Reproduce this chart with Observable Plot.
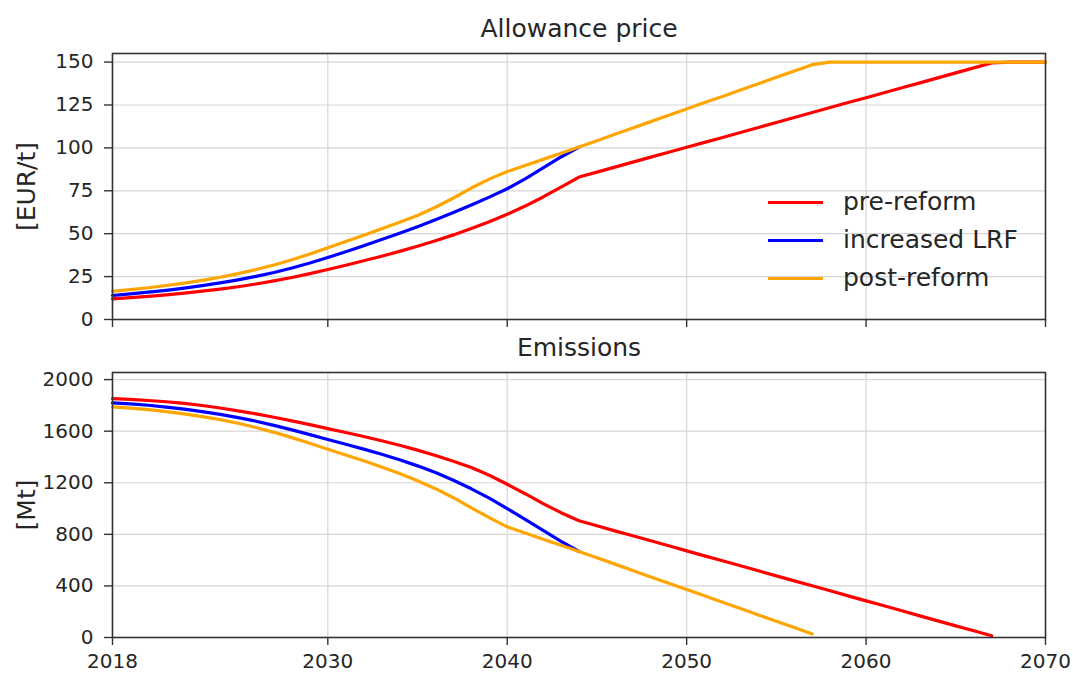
<!DOCTYPE html>
<html>
<head>
<meta charset="utf-8">
<script src="https://cdn.jsdelivr.net/npm/d3@7"></script>
<script src="https://cdn.jsdelivr.net/npm/@observablehq/plot@0.6"></script>
<style>
  html, body { margin: 0; padding: 0; background: #fff; }
  #chart { position: relative; width: 1073px; height: 673px; font-family: "DejaVu Sans", sans-serif; color: #262626; overflow: hidden; }
  #chart svg { position: absolute; left: 0; overflow: visible; }
  .legend-row { position: absolute; left: 768px; height: 30px; width: 280px; }
  .legend-row .swatch { position: absolute; left: 0; top: 13.5px; width: 55px; height: 3px; }
  .legend-row .label { position: absolute; left: 75px; top: 0; line-height: 30px; font-size: 25px; white-space: nowrap; color: #262626; }
</style>
</head>
<body>
<div id="chart"></div>
<script>
// Scenario names and colours
const seriesNames = ["pre-reform", "increased LRF", "post-reform"];
const seriesColors = ["#ff0000", "#0000ff", "#ffa500"];

// Shared x axis
const firstYear = 2018;
const xDomain = [2018, 2070];
const xTicks = [2018, 2030, 2040, 2050, 2060, 2070];

// Allowance price [EUR/t], one value per year from 2018
const pricePre = [
  12.0, 12.7, 13.5, 14.4, 15.4, 16.5, 17.7, 19.1, 20.7, 22.5, 24.5, 26.7, 29.1,
  31.6, 34.2, 36.9, 39.7, 42.7, 45.9, 49.3, 53.0, 57.0, 61.3, 66.1, 71.4, 77.1, 83.0,
  85.9, 88.8, 91.7, 94.6, 97.5, 100.4, 103.2, 106.1, 109.0, 111.9, 114.8, 117.7, 120.6,
  123.5, 126.4, 129.2, 132.1, 135.0, 137.9, 140.8, 143.7, 146.6, 149.5, 150, 150, 150
];
// increased LRF until it joins the post-reform path in 2044
const priceLRF = [
  14.0, 14.9, 15.9, 17.0, 18.3, 19.7, 21.3, 23.1, 25.1, 27.4, 30.0, 32.9, 36.1,
  39.5, 43.0, 46.6, 50.3, 54.1, 58.1, 62.3, 66.7, 71.3, 76.2, 82.0, 88.3, 94.7, 100.5
];
const pricePost = [
  16.4, 17.4, 18.5, 19.8, 21.2, 22.8, 24.6, 26.7, 29.1, 31.8, 34.8, 38.2, 41.8,
  45.4, 49.1, 52.9, 56.7, 60.6, 65.4, 70.8, 76.6, 81.8, 86.2, 89.7, 93.3, 96.9, 100.5,
  104.2, 107.9, 111.6, 115.3, 119.0, 122.7, 126.4, 130.0, 133.7, 137.4, 141.1, 144.8, 148.5,
  150, 150, 150, 150, 150, 150, 150, 150, 150, 150, 150, 150, 150
];
const priceTicks = [0, 25, 50, 75, 100, 125, 150];
const priceDomain = [0, 155];

// Emissions [Mt], one value per year from 2018
const emisPre = [
  1852, 1846, 1838, 1828, 1815, 1799, 1780, 1758, 1734, 1708, 1680, 1651, 1620,
  1590, 1559, 1526, 1491, 1453, 1412, 1367, 1318, 1258, 1188, 1115, 1038, 968, 905,
  866, 827, 789, 750, 711, 672, 633, 595, 556, 517, 478, 439, 401, 362, 323, 284,
  246, 207, 168, 129, 90, 52, 13
];
// increased LRF until it joins the post-reform path in 2044
const emisLRF = [
  1820, 1812, 1801, 1787, 1771, 1752, 1730, 1705, 1677, 1645, 1610, 1573, 1535,
  1499, 1461, 1421, 1378, 1331, 1279, 1219, 1153, 1081, 1000, 916, 830, 746, 667
];
const emisPost = [
  1788, 1779, 1767, 1752, 1734, 1713, 1690, 1661, 1628, 1591, 1550, 1506, 1460,
  1416, 1370, 1322, 1271, 1216, 1154, 1084, 1005, 930, 858, 810, 762, 715, 667,
  618, 569, 520, 470, 421, 372, 323, 274, 225, 175, 126, 77, 28
];
const emisTicks = [0, 400, 800, 1200, 1600, 2000];
const emisDomain = [0, 2055];

const toRows = (values) => values.map((value, i) => ({year: firstYear + i, value}));

const ink = "#262626";
const gridStyle = {stroke: "#d6d6d6", strokeOpacity: 1, strokeWidth: 1.2};
const lineStyle = {x: "year", y: "value", strokeWidth: 3.2, curve: "linear"};

function panel({title, unit, series, yDomain, yTicks, height, marginTop, marginBottom, showXLabels}) {
  return Plot.plot({
    width: 1073,
    height,
    marginLeft: 112,
    marginRight: 28,
    marginTop,
    marginBottom,
    style: {fontFamily: "DejaVu Sans, sans-serif", fontSize: "20px", color: ink, background: "transparent", overflow: "visible"},
    x: {domain: xDomain},
    y: {domain: yDomain},
    marks: [
      Plot.gridX(xTicks, gridStyle),
      Plot.gridY(yTicks, gridStyle),
      ...series.map((values, i) => Plot.line(toRows(values), {...lineStyle, stroke: seriesColors[i]})),
      Plot.frame({stroke: "#333", strokeWidth: 1.6}),
      Plot.axisX({
        ticks: xTicks, tickSize: 8, tickPadding: 8, label: null, stroke: "#333", strokeWidth: 1.4,
        tickFormat: showXLabels ? (d) => String(d) : () => ""
      }),
      Plot.axisY({ticks: yTicks, tickSize: 8, tickPadding: 11, label: null, stroke: "#333", strokeWidth: 1.4, tickFormat: (d) => String(d)}),
      Plot.text([title], {frameAnchor: "top", dy: -25, lineAnchor: "middle", fontSize: 25, fill: ink}),
      Plot.text([unit], {frameAnchor: "left", dx: -86, rotate: -90, textAnchor: "middle", lineAnchor: "middle", fontSize: 25, fill: ink})
    ]
  });
}

const chart = document.getElementById("chart");

const pricePanel = panel({
  title: "Allowance price", unit: "[EUR/t]",
  series: [pricePre, priceLRF, pricePost],
  yDomain: priceDomain, yTicks: priceTicks,
  height: 330, marginTop: 53, marginBottom: 11, showXLabels: false
});
pricePanel.style.top = "0px";
chart.appendChild(pricePanel);

const emissionsPanel = panel({
  title: "Emissions", unit: "[Mt]",
  series: [emisPre, emisLRF, emisPost],
  yDomain: emisDomain, yTicks: emisTicks,
  height: 343, marginTop: 42, marginBottom: 36, showXLabels: true
});
emissionsPanel.style.top = "330px";
chart.appendChild(emissionsPanel);

// Legend inside the upper panel
const legendTop = [187, 225, 263];
seriesNames.forEach((name, i) => {
  const row = document.createElement("div");
  row.className = "legend-row";
  row.style.top = legendTop[i] + "px";
  const swatch = document.createElement("span");
  swatch.className = "swatch";
  swatch.style.background = seriesColors[i];
  const label = document.createElement("span");
  label.className = "label";
  label.textContent = name;
  row.appendChild(swatch);
  row.appendChild(label);
  chart.appendChild(row);
});
</script>
</body>
</html>
